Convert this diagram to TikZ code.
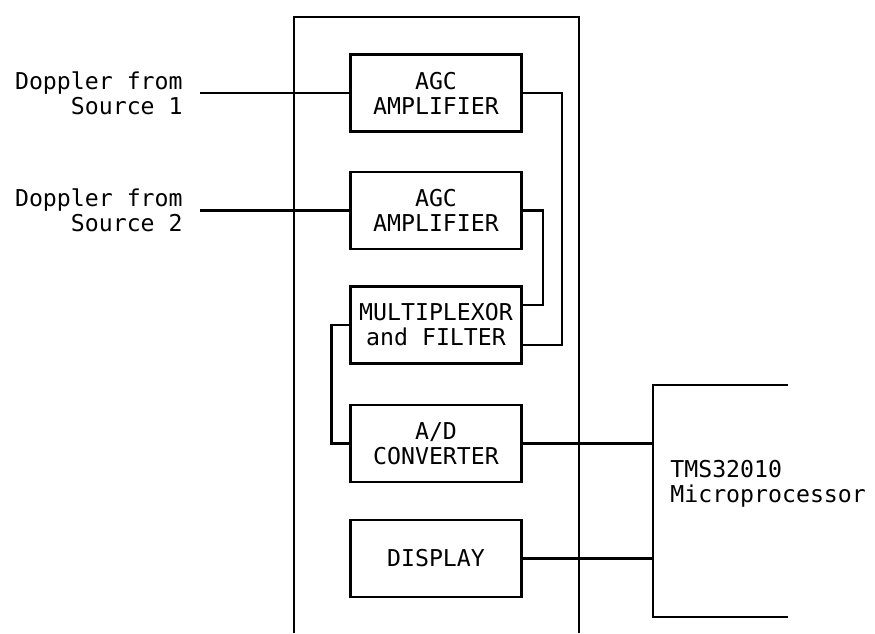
\documentclass[tikz,border=0pt]{standalone}
\usepackage{fontspec}
\newfontfamily\plotfont{DejaVu Sans Mono}
\usetikzlibrary{calc,positioning}
\tikzset{
  blk/.style={rectangle,draw,line width=1.2pt,minimum width=3.42cm,
    minimum height=1.54cm,align=center,inner sep=2pt,
    font=\plotfont\fontsize{13.2}{14.2}\selectfont},
  lbl/.style={align=right,inner sep=0pt,
    font=\plotfont\fontsize{13.2}{14.2}\selectfont},
  wire/.style={line width=1.2pt}
}
\begin{document}
\begin{tikzpicture}
  \useasboundingbox (0,0) rectangle (17.5,12.66);
  % outer frame, open at the bottom
  \draw[wire] (5.88,0) -- (5.88,12.32) -- (11.58,12.32) -- (11.58,0);
  % blocks
  \node[blk] (agc1) at (8.72,10.80) {AGC\\AMPLIFIER};
  \node[blk] (agc2) at (8.72,8.45) {AGC\\AMPLIFIER};
  \node[blk] (mux)  at (8.72,6.16) {MULTIPLEXOR\\and FILTER};
  \node[blk] (adc)  at (8.72,3.79) {A/D\\CONVERTER};
  \node[blk] (disp) at (8.72,1.49) {DISPLAY};
  % inputs
  \coordinate (in1) at (4.0,10.80);
  \coordinate (in2) at (4.0,8.45);
  \node[lbl,left=0.34cm of in1] (src1) {Doppler from\\Source 1};
  \node[lbl,left=0.34cm of in2] (src2) {Doppler from\\Source 2};
  \draw[wire] (in1) -- (agc1.west);
  \draw[wire] (in2) -- (agc2.west);
  % amplifiers into the multiplexor
  \draw[wire] (agc1.east) -- ++(0.78,0) |- ([yshift=-0.4cm]mux.east);
  \draw[wire] (agc2.east) -- ++(0.40,0) |- ([yshift=0.4cm]mux.east);
  \draw[wire] (mux.west) -- ++(-0.36,0) |- (adc.west);
  % microprocessor
  \coordinate (mp) at (13.06,4.96);
  \draw[wire] (15.76,4.96) -- (mp) -- (13.06,0.32) -- (15.76,0.32);
  \node[lbl,align=left,anchor=west] (cpu) at (13.4,2.99) {TMS32010\\Microprocessor};
  \draw[wire] (adc.east) -- (adc.east -| mp);
  \draw[wire] (disp.east) -- (disp.east -| mp);
\end{tikzpicture}
\end{document}
